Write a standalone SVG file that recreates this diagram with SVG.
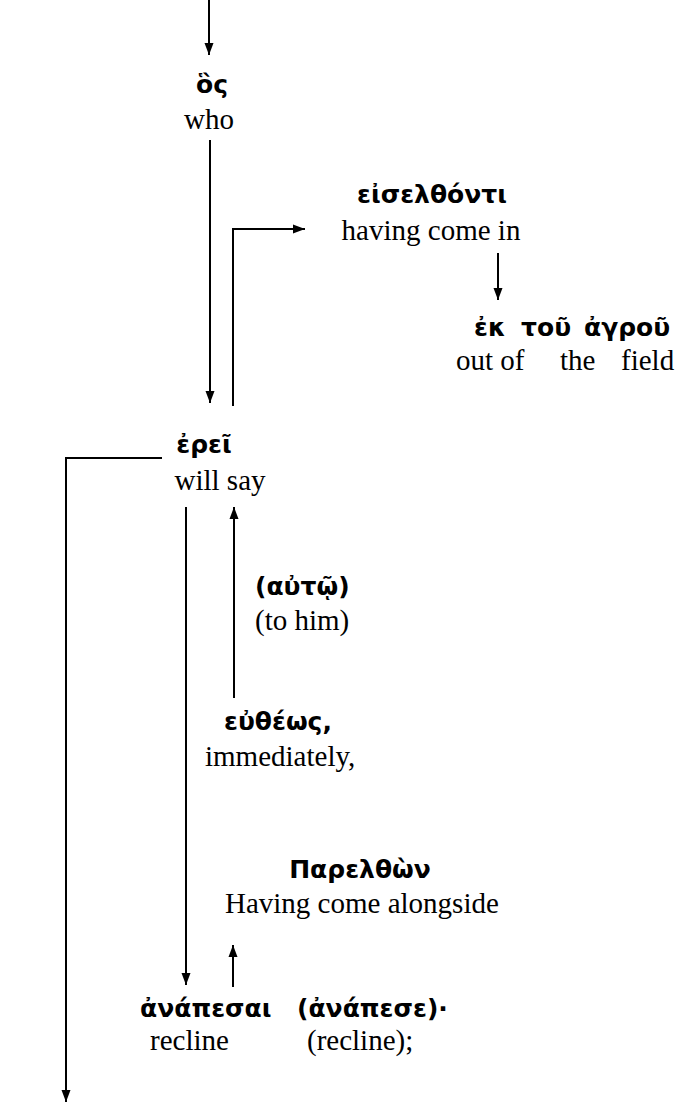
<svg xmlns="http://www.w3.org/2000/svg" width="694" height="1103" viewBox="0 0 694 1103">
  <defs>
    <marker id="ah" viewBox="0 0 12 10" refX="12" refY="5" markerWidth="12" markerHeight="10" markerUnits="userSpaceOnUse" orient="auto">
      <path d="M0,0.5 L12,5 L0,9.5 z" fill="#000"/>
    </marker>
  </defs>
  <style>
    .gr { font-family: "DejaVu Sans", "Noto Sans", sans-serif; font-weight: bold; font-size: 25px; fill: #000; }
    .en { font-family: "Liberation Serif", "Times New Roman", serif; font-size: 29px; fill: #000; }
    .ar { fill: none; stroke: #000; stroke-width: 2; marker-end: url(#ah); }
  </style>
  <rect width="694" height="1103" fill="#fff"/>

  <g id="connectors">
    <line class="ar" x1="209" y1="0" x2="209" y2="55"/>
    <line class="ar" x1="210" y1="140" x2="210" y2="403"/>
    <polyline class="ar" points="233,406 233,229 305,229"/>
    <line class="ar" x1="498" y1="253" x2="498" y2="300"/>
    <polyline class="ar" points="162,458 66,458 66,1102"/>
    <line class="ar" x1="186" y1="507" x2="186" y2="985"/>
    <line class="ar" x1="234" y1="698" x2="234" y2="507"/>
    <line class="ar" x1="233" y1="987" x2="233" y2="945"/>
  </g>

  <g id="node-hos">
    <text class="gr" x="212" y="93" text-anchor="middle">ὃς</text>
    <text class="en" x="209" y="129" text-anchor="middle">who</text>
  </g>

  <g id="node-eiselthonti">
    <text class="gr" x="432" y="203" text-anchor="middle">εἰσελθόντι</text>
    <text class="en" x="431" y="240" text-anchor="middle">having come in</text>
  </g>

  <g id="node-ek-tou-agrou">
    <text class="gr" y="336"><tspan x="474">ἐκ</tspan><tspan x="521">τοῦ</tspan><tspan x="584">ἀγροῦ</tspan></text>
    <text class="en" y="370"><tspan x="456">out of</tspan><tspan x="560">the</tspan><tspan x="621">field</tspan></text>
  </g>

  <g id="node-erei">
    <text class="gr" x="204" y="453" text-anchor="middle">ἐρεῖ</text>
    <text class="en" x="220" y="490" text-anchor="middle">will say</text>
  </g>

  <g id="node-auto">
    <text class="gr" x="255" y="595">(αὐτῷ)</text>
    <text class="en" x="255" y="630">(to him)</text>
  </g>

  <g id="node-eutheos">
    <text class="gr" x="224" y="730">εὐθέως,</text>
    <text class="en" x="205" y="766">immediately,</text>
  </g>

  <g id="node-parelthon">
    <text class="gr" x="360" y="878" text-anchor="middle">Παρελθὼν</text>
    <text class="en" x="225" y="913">Having come alongside</text>
  </g>

  <g id="node-anapesai">
    <text class="gr" y="1017"><tspan x="140">ἀνάπεσαι</tspan><tspan x="297">(ἀνάπεσε)·</tspan></text>
    <text class="en" y="1050"><tspan x="150">recline</tspan><tspan x="307">(recline);</tspan></text>
  </g>
</svg>
